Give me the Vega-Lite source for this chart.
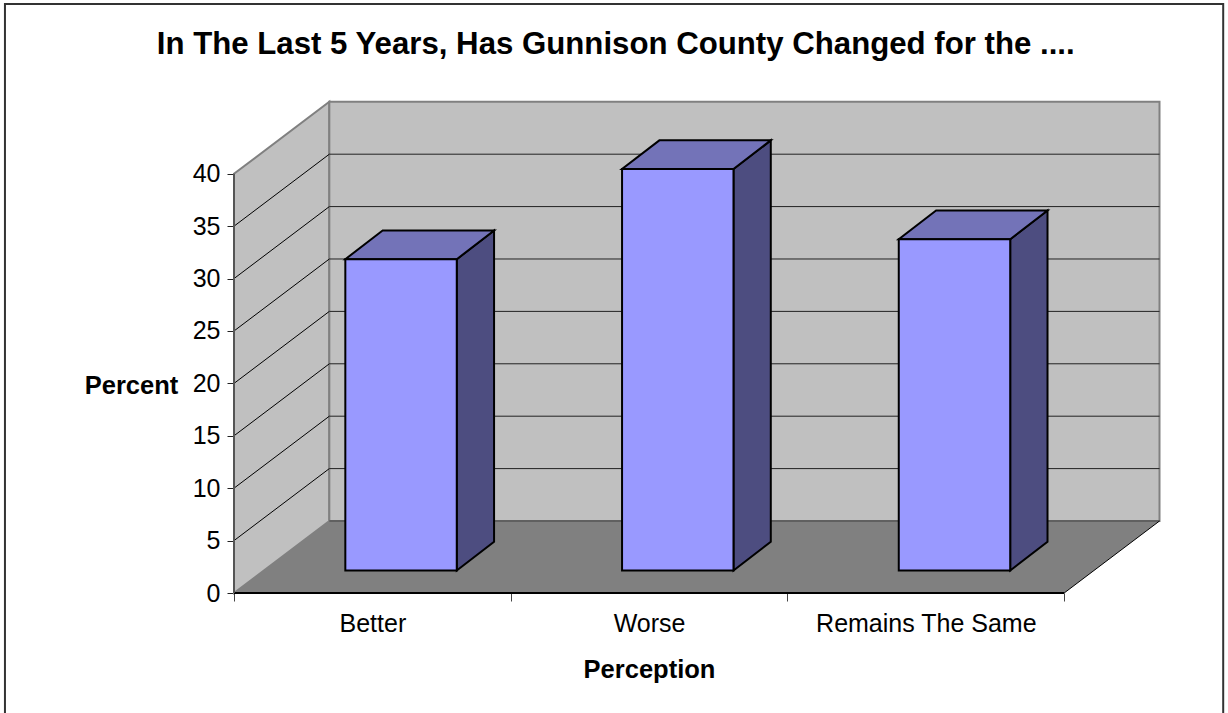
{
"$schema":"https://vega.github.io/schema/vega-lite/v6.json",
"width":925.5,"height":491,
"padding":{"left":234,"top":102,"right":68.5,"bottom":120},
"autosize":"none",
"background":"#ffffff",
"title":{"text":"In The Last 5 Years, Has Gunnison County Changed for the ....","font":"Liberation Sans","fontSize":31.2,"fontWeight":"bold","color":"#000000","anchor":"middle","frame":"group","dx":-81,"offset":-57},
"datasets":{
"bars":[{"perception":"Better","index":0,"percent":29.7},{"perception":"Worse","index":1,"percent":38.3},{"perception":"Remains The Same","index":2,"percent":31.6}],
"grid":[{"percent":5},{"percent":10},{"percent":15},{"percent":20},{"percent":25},{"percent":30},{"percent":35}],
"ends":[{"t":0},{"t":1}],
"one":[{"piece":"chart"}]
},
"data":{"name":"one"},
"config":{"view":{"stroke":null}},
"encoding":{
"x":{"field":"x","type":"quantitative","scale":{"domain":[0,3.3445],"nice":false,"zero":false},
  "axis":{"values":[0,0.5,1,1.5,2,2.5,3],"domain":false,"grid":false,"title":"Perception","titleFont":"Liberation Sans","titleFontSize":25.5,"titleFontWeight":"bold","titleColor":"#000000","titleX":415,"titleY":64,"titleAlign":"center",
   "labelExpr":"datum.value==0.5?'Better':datum.value==1.5?'Worse':datum.value==2.5?'Remains The Same':''","labelFont":"Liberation Sans","labelFontSize":25,"labelColor":"#000000","labelPadding":10,"labelLimit":500,"labelOverlap":false,"labelFlush":false,"labelBound":false,
   "tickSize":8,"tickColor":"#444444","tickWidth":1,"tickOpacity":{"condition":{"test":"datum.value%1==0","value":1},"value":0}}},
"y":{"field":"y","type":"quantitative","scale":{"domain":[0,46.85],"nice":false,"zero":false},
  "axis":{"values":[0,5,10,15,20,25,30,35,40],"domain":false,"grid":false,"title":"Percent","titleFont":"Liberation Sans","titleFontSize":25.5,"titleFontWeight":"bold","titleColor":"#000000","titleAngle":0,"titleX":-103,"titleY":283,"titleAlign":"center","titleBaseline":"middle",
   "labelFont":"Liberation Sans","labelFontSize":25,"labelColor":"#000000","labelPadding":7,"tickSize":7,"tickColor":"#222222","tickWidth":1}}
},
"layer":[
{"data":{"name":"one"},
 "transform":[{"calculate":"-0.8277","as":"x"},{"calculate":"3.5747","as":"x2"},{"calculate":"-11.7","as":"y"},{"calculate":"56.2","as":"y2"}],
 "mark":{"type":"rect","filled":false,"stroke":"#333333","strokeWidth":2},
 "encoding":{"x2":{"field":"x2"},"y2":{"field":"y2"}}},
{"data":{"name":"ends"},
 "transform":[{"calculate":"datum.t*0.3445","as":"x"},{"calculate":"datum.t*6.87","as":"y"},{"calculate":"40+datum.t*6.87","as":"y2"}],
 "mark":{"type":"area","fill":"#c0c0c0","stroke":"#808080","strokeWidth":2},
 "encoding":{"y2":{"field":"y2"}}},
{"data":{"name":"one"},
 "transform":[{"calculate":"0.3445","as":"x"},{"calculate":"3.3445","as":"x2"},{"calculate":"6.87","as":"y"},{"calculate":"46.87","as":"y2"}],
 "mark":{"type":"rect","fill":"#c0c0c0","stroke":"#808080","strokeWidth":2},
 "encoding":{"x2":{"field":"x2"},"y2":{"field":"y2"}}},
{"data":{"name":"ends"},
 "transform":[{"calculate":"datum.t*0.3445","as":"x"},{"calculate":"3+datum.t*0.3445","as":"x2"},{"calculate":"datum.t*6.87","as":"y"}],
 "mark":{"type":"area","orient":"horizontal","fill":"#808080"},
 "encoding":{"x2":{"field":"x2"}}},
{"data":{"name":"grid"},
 "transform":[{"calculate":"0","as":"x"},{"calculate":"0.3445","as":"x2"},{"calculate":"datum.percent","as":"y"},{"calculate":"datum.percent+6.87","as":"y2"}],
 "mark":{"type":"rule","stroke":"#000000","strokeWidth":1},
 "encoding":{"x2":{"field":"x2"},"y2":{"field":"y2"}}},
{"data":{"name":"grid"},
 "transform":[{"calculate":"0.3445","as":"x"},{"calculate":"3.3445","as":"x2"},{"calculate":"datum.percent+6.87","as":"y"}],
 "mark":{"type":"rule","stroke":"#222222","strokeWidth":1},
 "encoding":{"x2":{"field":"x2"}}},
{"data":{"name":"one"},
 "transform":[{"calculate":"0.3445","as":"x"},{"calculate":"3.3445","as":"x2"},{"calculate":"6.87","as":"y"}],
 "mark":{"type":"rule","stroke":"#606060","strokeWidth":2},
 "encoding":{"x2":{"field":"x2"}}},
{"data":{"name":"one"},
 "transform":[{"calculate":"0","as":"x"},{"calculate":"3","as":"x2"},{"calculate":"0","as":"y"}],
 "mark":{"type":"rule","stroke":"#000000","strokeWidth":2},
 "encoding":{"x2":{"field":"x2"}}},
{"data":{"name":"one"},
 "transform":[{"calculate":"3","as":"x"},{"calculate":"3.3445","as":"x2"},{"calculate":"0","as":"y"},{"calculate":"6.87","as":"y2"}],
 "mark":{"type":"rule","stroke":"#000000","strokeWidth":1},
 "encoding":{"x2":{"field":"x2"},"y2":{"field":"y2"}}},
{"data":{"name":"one"},
 "transform":[{"calculate":"0","as":"x"},{"calculate":"0","as":"y"},{"calculate":"40","as":"y2"}],
 "mark":{"type":"rule","stroke":"#555555","strokeWidth":2},
 "encoding":{"y2":{"field":"y2"}}},
{"data":{"name":"bars"},
 "transform":[{"calculate":"[0,1]","as":"t"},{"flatten":["t"]},{"calculate":"datum.index+0.8050+datum.t*0.1348","as":"x"},{"calculate":"2.15+datum.t*2.74","as":"y"},{"calculate":"2.15+datum.percent+datum.t*2.74","as":"y2"}],
 "mark":{"type":"area","fill":"#4d4d80","stroke":"#000000","strokeWidth":2},
 "encoding":{"y2":{"field":"y2"},"detail":{"field":"perception"}}},
{"data":{"name":"bars"},
 "transform":[{"calculate":"[0,1]","as":"t"},{"flatten":["t"]},{"calculate":"datum.index+0.4023+datum.t*0.1348","as":"x"},{"calculate":"datum.index+0.8050+datum.t*0.1348","as":"x2"},{"calculate":"2.15+datum.percent+datum.t*2.74","as":"y"}],
 "mark":{"type":"area","orient":"horizontal","fill":"#7373b8","stroke":"#000000","strokeWidth":2},
 "encoding":{"x2":{"field":"x2"},"detail":{"field":"perception"}}},
{"data":{"name":"bars"},
 "transform":[{"calculate":"datum.index+0.4023","as":"x"},{"calculate":"datum.index+0.8050","as":"x2"},{"calculate":"2.15","as":"y"},{"calculate":"2.15+datum.percent","as":"y2"}],
 "mark":{"type":"rect","fill":"#9999ff","stroke":"#000000","strokeWidth":2},
 "encoding":{"x2":{"field":"x2"},"y2":{"field":"y2"}}}
]
}
